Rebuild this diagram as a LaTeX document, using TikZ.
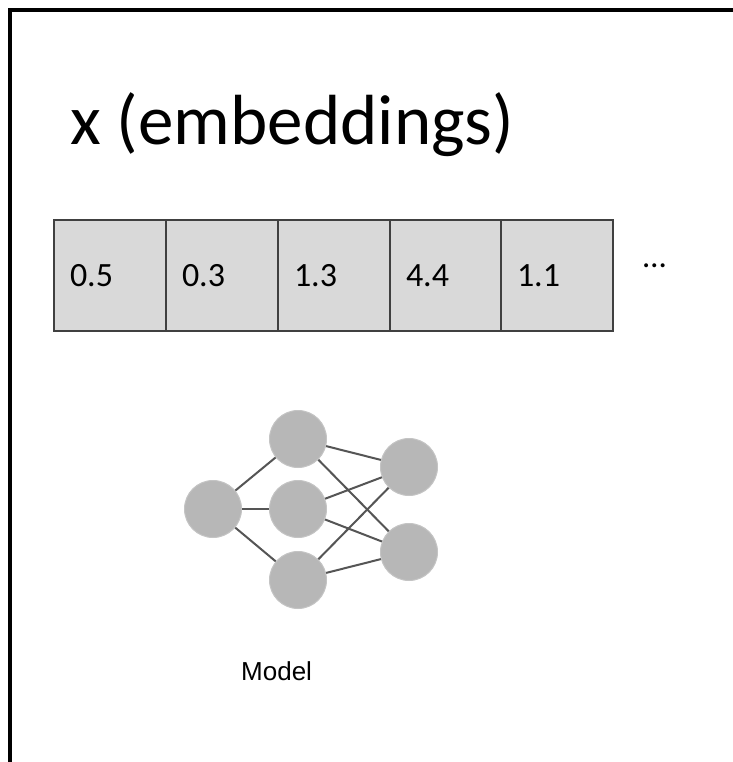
\documentclass[tikz,border=0pt]{standalone}
\usepackage{fontspec}
\setmainfont{Carlito}[Numbers=Lining]
\newfontfamily\arialfont{Liberation Sans}
\definecolor{cellfill}{HTML}{D9D9D9}
\definecolor{celldraw}{HTML}{404040}
\definecolor{neuronfill}{HTML}{B7B7B7}
\definecolor{neurondraw}{HTML}{C4C4C4}
\definecolor{edgecol}{HTML}{555555}
\newcommand{\cellnum}[1]{\makebox[80pt][l]{#1}}
\tikzset{
  cellbox/.style={draw=celldraw, fill=cellfill, line width=1.4pt, minimum width=112pt, minimum height=111pt, inner sep=0pt, text depth=0pt, font=\fontsize{34}{36}\selectfont},
  neuron/.style={circle, fill=neuronfill, draw=neurondraw, line width=1pt, minimum size=57pt, inner sep=0pt},
  synapse/.style={draw=edgecol, line width=2pt},
}
\begin{document}
\begin{tikzpicture}[x=1pt,y=-1pt]
\useasboundingbox (0,0) rectangle (732,762);
\fill[white] (0,0) rectangle (732,762);
\draw[line width=4pt, line join=miter] (10,775) -- (10,10) -- (745,10);
\node[anchor=base west, inner sep=0pt, font=\fontsize{71}{80}\selectfont] (title) at (70,145) {x (embeddings)};
\node[cellbox] (c1) at (110,275.5) {\cellnum{0.5}};
\node[cellbox] (c2) at (222,275.5) {\cellnum{0.3}};
\node[cellbox] (c3) at (334,275.5) {\cellnum{1.3}};
\node[cellbox] (c4) at (446,275.5) {\cellnum{4.4}};
\node[cellbox] (c5) at (557,275.5) {\cellnum{1.1}};
\node[anchor=base west, inner sep=0pt, font=\fontsize{33}{36}\selectfont] (dots) at (643,267) {…};
\node[neuron] (in) at (213,509) {};
\node[neuron] (h1) at (298,439) {};
\node[neuron] (h2) at (298,509) {};
\node[neuron] (h3) at (298,580) {};
\node[neuron] (o1) at (409,467) {};
\node[neuron] (o2) at (409,552) {};
\foreach \h in {h1,h2,h3} {
  \draw[synapse] (in) -- (\h);
  \draw[synapse] (\h) -- (o1);
  \draw[synapse] (\h) -- (o2);
}
\node[anchor=base west, inner sep=0pt, font=\arialfont\fontsize{26}{30}\selectfont] (model) at (241,680) {Model};
\end{tikzpicture}
\end{document}
